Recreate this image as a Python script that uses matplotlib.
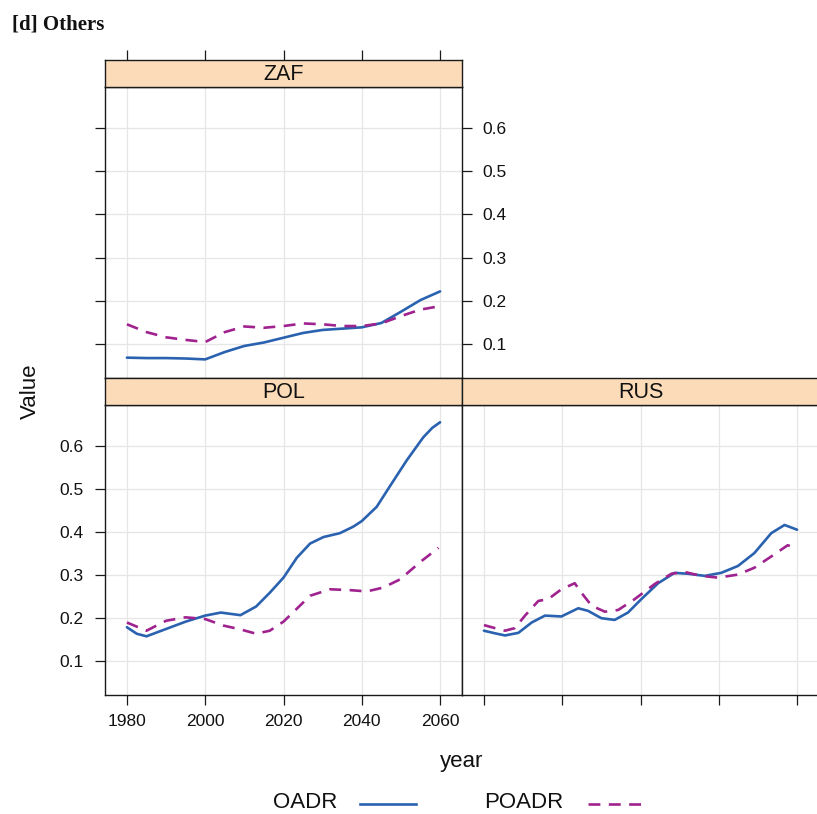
import matplotlib
matplotlib.use("Agg")
import matplotlib.pyplot as plt
from matplotlib.lines import Line2D

# ---- data -------------------------------------------------------------
zaf_oadr_years = [1980, 1985, 1990, 1995, 2000, 2005, 2010, 2015, 2020, 2025,
                  2030, 2035, 2040, 2045, 2050, 2055, 2060]
zaf_oadr = [0.069, 0.068, 0.068, 0.067, 0.065, 0.082, 0.096, 0.104, 0.115, 0.126,
            0.133, 0.136, 0.139, 0.149, 0.175, 0.202, 0.222]
zaf_poadr_years = [1980, 1985, 1990, 1995, 2000, 2005, 2010, 2015, 2020, 2025,
                   2030, 2035, 2040, 2045, 2050, 2055, 2060]
zaf_poadr = [0.146, 0.128, 0.116, 0.110, 0.105, 0.128, 0.141, 0.138, 0.142, 0.148,
             0.146, 0.142, 0.142, 0.148, 0.165, 0.180, 0.188]

pol_oadr_years = [1980, 1982.5, 1985, 1990, 1995, 2000, 2004, 2009, 2013, 2016.5,
                  2020, 2023.4, 2026.8, 2030.2, 2034.4, 2037.8, 2040, 2043.8,
                  2047.2, 2051.5, 2055.7, 2058, 2060]
pol_oadr = [0.179, 0.164, 0.158, 0.175, 0.192, 0.206, 0.213, 0.207, 0.227, 0.259,
            0.294, 0.340, 0.373, 0.388, 0.397, 0.412, 0.425, 0.458,
            0.506, 0.566, 0.619, 0.641, 0.654]
pol_poadr_years = [1980, 1985, 1990, 1995, 2000, 2004.6, 2009, 2013, 2016.5, 2020,
                   2023.4, 2026.8, 2031.9, 2037, 2041.3, 2045.5, 2049.8, 2054.9,
                   2059.6]
pol_poadr = [0.190, 0.171, 0.194, 0.202, 0.198, 0.183, 0.174, 0.164, 0.171, 0.192,
             0.222, 0.252, 0.267, 0.265, 0.262, 0.271, 0.290, 0.330,
             0.363]

rus_oadr_years = [1980, 1982.8, 1985.4, 1988.8, 1992.2, 1995.6, 1999.8, 2004.1,
                  2006.6, 2010, 2013.4, 2016.8, 2020.2, 2024.5, 2028.7, 2032.1,
                  2036.4, 2040.6, 2044.9, 2049.1, 2053.4, 2056.8, 2060]
rus_oadr = [0.171, 0.165, 0.160, 0.166, 0.190, 0.206, 0.204, 0.223,
            0.217, 0.200, 0.196, 0.213, 0.244, 0.281, 0.305, 0.303,
            0.298, 0.305, 0.321, 0.351, 0.397, 0.416, 0.405]
rus_poadr_years = [1980, 1982.8, 1985.4, 1987.9, 1990.5, 1993.9, 1996.4, 1999.8,
                   2003.2, 2004.9, 2007.5, 2010.9, 2014.3, 2018.5, 2023.6, 2027.9,
                   2031.3, 2035.5, 2039.8, 2044.9, 2049.1, 2053.4, 2057.6, 2059.3]
rus_poadr = [0.184, 0.177, 0.171, 0.177, 0.206, 0.240, 0.244, 0.267,
             0.281, 0.259, 0.229, 0.215, 0.219, 0.244, 0.279, 0.303,
             0.307, 0.298, 0.294, 0.301, 0.317, 0.343, 0.369, 0.364]

series_names = ["OADR", "POADR"]
x_ticks = [1980, 2000, 2020, 2040, 2060]
y_ticks = [0.1, 0.2, 0.3, 0.4, 0.5, 0.6]

# ---- style ------------------------------------------------------------
plt.rcParams["font.family"] = ["Liberation Sans", "DejaVu Sans"]
W, H = 817, 814
C_OADR = "#2a62b0"
C_POADR = "#a0228f"
STRIP = "#fcdcb8"
EDGE = "#1a1a1a"
GRID = "#e6e6e6"
LW = 1.9
DASH = (0, (4.5, 3.2))
XLIM = (1974.4, 2065.6)
YLIM = (0.022, 0.694)
TICK_FS = 12.5

fig = plt.figure(figsize=(W / 100, H / 100), dpi=100)


def box(x0, y0, x1, y1):
    return [x0 / W, 1 - y1 / H, (x1 - x0) / W, (y1 - y0) / H]


def panel(rect, name, oadr_x, oadr_y, poadr_x, poadr_y):
    ax = fig.add_axes(box(*rect))
    ax.set_xlim(*XLIM)
    ax.set_ylim(*YLIM)
    ax.set_xticks(x_ticks)
    ax.set_yticks(y_ticks)
    ax.grid(True, color=GRID, lw=0.9)
    ax.set_axisbelow(True)
    ax.plot(oadr_x, oadr_y, color=C_OADR, lw=LW, solid_capstyle="round",
            solid_joinstyle="round")
    ax.plot(poadr_x, poadr_y, color=C_POADR, lw=LW, linestyle=DASH,
            dash_capstyle="butt", dash_joinstyle="round")
    for s in ax.spines.values():
        s.set_color(EDGE)
        s.set_linewidth(1.0)
    ax.tick_params(direction="out", length=7.5, width=0.9, color=EDGE,
                   labelsize=TICK_FS, labelcolor="#111111",
                   bottom=False, left=False, top=False, right=False,
                   labelbottom=False, labelleft=False)
    # strip on top of the panel
    x0, y0, x1, y1 = rect
    sx = fig.add_axes(box(x0, y0 - 27, x1, y0))
    sx.set_facecolor(STRIP)
    sx.set_xlim(*XLIM)
    sx.set_ylim(0, 1)
    sx.set_xticks(x_ticks)
    sx.set_yticks([])
    sx.tick_params(direction="out", length=7.5, width=0.9, color=EDGE,
                   bottom=False, labelbottom=False, top=False, labeltop=False)
    for s in sx.spines.values():
        s.set_color(EDGE)
        s.set_linewidth(1.0)
    sx.text(0.5, 0.47, name, transform=sx.transAxes, ha="center", va="center",
            fontsize=15.5, color="#111111")
    return ax, sx


# top-left: ZAF
ax_zaf, st_zaf = panel((105, 87, 462, 378), "ZAF",
                       zaf_oadr_years, zaf_oadr, zaf_poadr_years, zaf_poadr)
ax_zaf.tick_params(left=True, right=True, labelright=True, pad=7)
st_zaf.tick_params(top=True)

# bottom-left: POL
ax_pol, st_pol = panel((105, 405, 462, 695), "POL",
                       pol_oadr_years, pol_oadr, pol_poadr_years, pol_poadr)
ax_pol.tick_params(left=True, labelleft=True, bottom=True, labelbottom=True)
ax_pol.tick_params(axis="x", pad=6)
ax_pol.tick_params(axis="y", pad=8)

# bottom-right: RUS
ax_rus, st_rus = panel((462, 405, 819, 695), "RUS",
                       rus_oadr_years, rus_oadr, rus_poadr_years, rus_poadr)
ax_rus.tick_params(bottom=True)

for a in (ax_zaf, ax_pol, ax_rus):
    a.yaxis.set_major_formatter(matplotlib.ticker.FormatStrFormatter("%.1f"))

# axis titles
fig.text(462 / W, 1 - 762 / H, "year", ha="center", va="center", fontsize=16,
         color="#111111")
fig.text(30 / W, 1 - 391 / H, "Value", ha="center", va="center", fontsize=16,
         rotation=90, color="#111111")

# chart title
fig.text(12 / W, 1 - 30 / H, "[d] Others", ha="left", va="baseline",
         fontsize=15, fontweight="bold", color="#111111",
         family=["Liberation Serif", "DejaVu Serif"])

# legend along the bottom
ly = 1 - 803 / H
fig.text(337 / W, ly, series_names[0], ha="right", va="center", fontsize=16,
         color="#111111")
fig.add_artist(Line2D([360 / W, 416 / W], [1 - 804 / H] * 2, color=C_OADR,
                      lw=LW, transform=fig.transFigure))
fig.text(563 / W, ly, series_names[1], ha="right", va="center", fontsize=16,
         color="#111111")
fig.add_artist(Line2D([588 / W, 644 / W], [1 - 804 / H] * 2, color=C_POADR,
                      lw=LW, linestyle=DASH, transform=fig.transFigure))

fig.savefig("out.png", dpi=100)
